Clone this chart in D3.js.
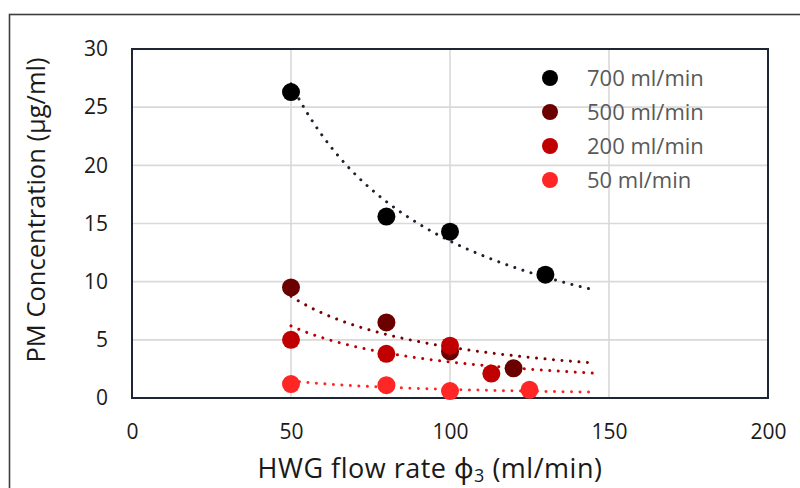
<!DOCTYPE html>
<html>
<head>
<meta charset="utf-8">
<script src="https://cdn.jsdelivr.net/npm/d3@7"></script>
<style>
  html, body { margin: 0; padding: 0; background: #fff; }
  svg { display: block; font-family: "Open Sans", "Noto Sans", sans-serif; }
</style>
</head>
<body>
<svg id="chart" width="800" height="488"></svg>
<script>
// ---- data ----
const seriesNames = ["700 ml/min", "500 ml/min", "200 ml/min", "50 ml/min"];
const seriesColors = ["#000000", "#6b0000", "#c00000", "#ff2626"];
const trendColors = ["#1c222e", "#7a0000", "#c00000", "#ff2626"];
const xs700 = [50, 80, 100, 130];
const ys700 = [26.3, 15.6, 14.3, 10.6];
const xs500 = [50, 80, 100, 120];
const ys500 = [9.5, 6.5, 4.0, 2.55];
const xs200 = [50, 80, 100, 113];
const ys200 = [5.0, 3.8, 4.5, 2.1];
const xs50 = [50, 80, 100, 125];
const ys50 = [1.2, 1.1, 0.6, 0.7];
// trendline model C = k / phi3
const trendK = [1350, 437, 310, 74];
const trendRange = [50, 145];
const xTicks = [0, 50, 100, 150, 200];
const yTicks = [0, 5, 10, 15, 20, 25, 30];

const seriesX = [xs700, xs500, xs200, xs50];
const seriesY = [ys700, ys500, ys200, ys50];

const svg = d3.select("#chart");
const x = d3.scaleLinear().domain([0, 200]).range([132, 768]);
const y = d3.scaleLinear().domain([0, 30]).range([398, 49]);

// outer chart border
svg.append("rect").attr("x", 9.5).attr("y", 14.5).attr("width", 820).attr("height", 520)
  .attr("fill", "none").attr("stroke", "#3f3f3f").attr("stroke-width", 1.6);

// gridlines
const grid = svg.append("g");
grid.selectAll("line.h").data(yTicks.slice(1, -1)).join("line")
  .attr("x1", x(0)).attr("x2", x(200)).attr("y1", d => y(d)).attr("y2", d => y(d))
  .attr("stroke", "#d9d9d9").attr("stroke-width", 1.6);
grid.selectAll("line.v").data(xTicks.slice(1, -1)).join("line")
  .attr("y1", y(0)).attr("y2", y(30)).attr("x1", d => x(d)).attr("x2", d => x(d))
  .attr("stroke", "#d9d9d9").attr("stroke-width", 1.6);

// axes tick labels via d3 axes
const xAxis = svg.append("g").attr("transform", `translate(0,${y(0)})`)
  .call(d3.axisBottom(x).tickValues(xTicks).tickSize(0).tickPadding(26));
const yAxis = svg.append("g").attr("transform", `translate(${x(0)},0)`)
  .call(d3.axisLeft(y).tickValues(yTicks).tickSize(0).tickPadding(24));
[xAxis, yAxis].forEach(a => {
  a.select(".domain").remove();
  a.selectAll("text").attr("font-size", 21).attr("fill", "#1a1a1a")
    .attr("font-family", "'Open Sans', sans-serif");
});

// plot frame
svg.append("rect").attr("x", x(0)).attr("y", y(30))
  .attr("width", x(200) - x(0)).attr("height", y(0) - y(30))
  .attr("fill", "none").attr("stroke", "#1e2633").attr("stroke-width", 2);

// trendlines
const line = d3.line().x(d => x(d[0])).y(d => y(d[1])).curve(d3.curveLinear);
trendK.forEach((k, i) => {
  const pts = d3.range(trendRange[0], trendRange[1] + 0.01, 0.5).map(v => [v, k / v]);
  svg.append("path").datum(pts).attr("d", line)
    .attr("fill", "none").attr("stroke", trendColors[i]).attr("stroke-width", 3)
    .attr("stroke-linecap", "round").attr("stroke-dasharray", "0.01 8.5");
});

// markers
seriesX.forEach((xsArr, i) => {
  svg.append("g").selectAll("circle").data(xsArr.map((v, j) => [v, seriesY[i][j]])).join("circle")
    .attr("cx", d => x(d[0])).attr("cy", d => y(d[1])).attr("r", 9)
    .attr("fill", seriesColors[i]);
});

// legend
const lg = svg.append("g");
seriesNames.forEach((name, i) => {
  const cy = 78 + i * 34;
  lg.append("circle").attr("cx", 550).attr("cy", cy).attr("r", 8).attr("fill", seriesColors[i]);
  lg.append("text").attr("x", 587).attr("y", cy).attr("dy", "0.35em")
    .attr("font-size", 22).attr("fill", "#595959").text(name);
});

// axis titles
svg.append("text").attr("transform", "translate(45,210) rotate(-90)")
  .attr("text-anchor", "middle").attr("font-size", 25.5).attr("fill", "#1a1a1a")
  .text("PM Concentration (µg/ml)");
const xt = svg.append("text").attr("x", 430).attr("y", 478)
  .attr("text-anchor", "middle").attr("font-size", 27).attr("letter-spacing", 0.5)
  .attr("fill", "#1a1a1a");
xt.append("tspan").text("HWG flow rate ϕ");
xt.append("tspan").attr("font-size", 18).attr("dy", 4).text("3");
xt.append("tspan").attr("dy", -4).text(" (ml/min)");
</script>
</body>
</html>
